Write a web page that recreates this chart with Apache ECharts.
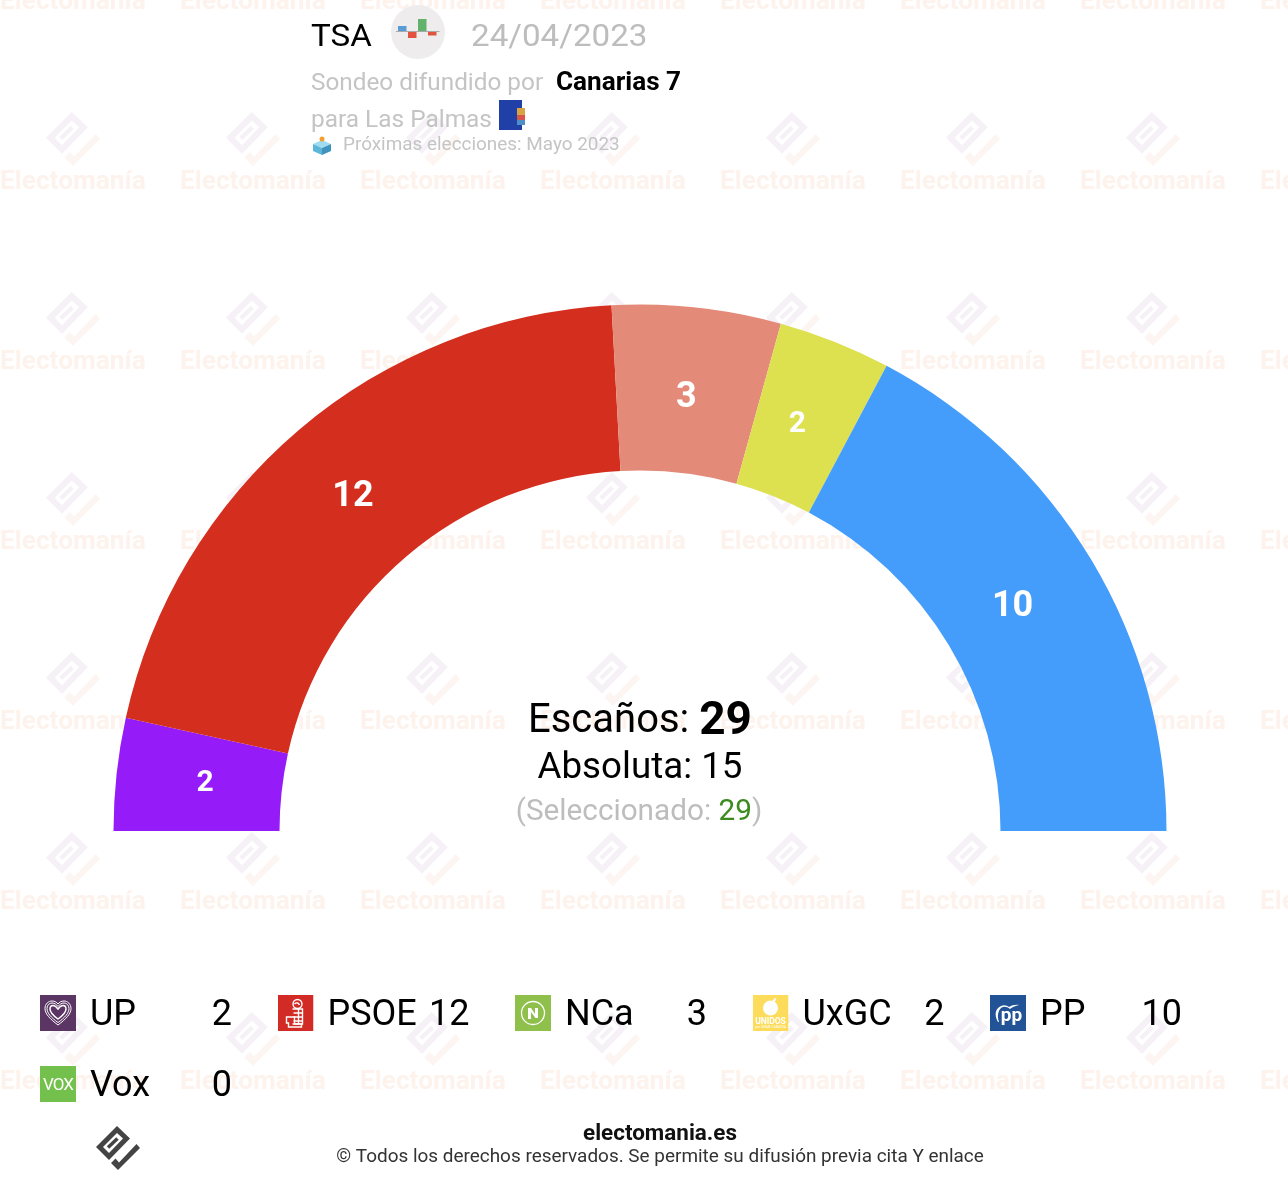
<!DOCTYPE html>
<html><head><meta charset="utf-8">
<style>html,body{margin:0;padding:0;background:#fff}#c{width:1288px;height:1186px}</style>
<script src="https://cdn.jsdelivr.net/npm/echarts@6/dist/echarts.min.js"></script>
</head><body><div id="c"></div>
<script>
const parties = ['UP','PSOE','NCa','UxGC','PP','Vox'];
const seats = [2,12,3,2,10,0];
const colors = ['#951bf9','#d42e1f','#e38a78','#dde04f','#449dfb','#74c04c'];
const labelNudges = [[9,1],[2,6],[-2,11],[-8,8],[-10,6],[0,0]];
const pollster = 'TSA';
const pollDate = '24/04/2023';
const totalSeats = 29, majority = 15, selected = 29;

const svg = {
 UP:'<rect width="36" height="36" fill="#5b3564"/><g fill="none" stroke="#fff" stroke-width="1"><path d="M18 30C10 24 5 19 5 13.500C5 9 8.500 6 12 6C14.500 6 16.500 7 18 9C19.500 7 21.500 6 24 6C27.500 6 31 9 31 13.500C31 19 26 24 18 30Z"/><path d="M18 27.500C11 22.500 7 18 7 13.500C7 10 9.500 8 12 8C14.500 8 16.500 9.500 18 11.500C19.500 9.500 21.500 8 24 8C26.500 8 29 10 29 13.500C29 18 25 22.500 18 27.500Z"/><path stroke-width="1.500" d="M18 24C13 20.500 10 17 10 14C10 11.500 11.500 10.500 13 10.500C15 10.500 16.500 12 18 14C19.500 12 21 10.500 23 10.500C24.500 10.500 26 11.500 26 14C26 17 23 20.500 18 24Z"/></g>',
 PSOE:'<rect width="36" height="36" fill="#d22b25"/><g fill="none" stroke="#fff" stroke-width="1.400"><circle cx="20" cy="9" r="4.500"/><path d="M17 9c2-2 4-1 5 1"/><path d="M15 14h10v15H15M16 18h9M16 22h9M16 26h9M21 14v15"/><path d="M9 22h8v7h7v3H11v-4H9Z"/></g>',
 NCa:'<rect width="36" height="36" fill="#8fc04c"/><circle cx="18" cy="18" r="11.500" fill="none" stroke="#fff" stroke-width="1.300"/><path fill="#fff" d="M13 13h3l4 6v-6h3v10h-2.500L16 17v7h-3Z"/>',
 UxGC:'<rect width="36" height="36" fill="#fcdc5a"/><circle cx="18" cy="13" r="7.500" fill="#fff"/><path d="M20 6l2-3 2 1-2 3Z" fill="#fff"/><text x="18" y="28.500" text-anchor="middle" font-family="Roboto" font-weight="700" font-size="8.500" fill="#fff">UNIDOS</text><text x="18" y="33" text-anchor="middle" font-family="Roboto" font-size="3.500" fill="#fff">por GRAN CANARIA</text>',
 PP:'<rect width="36" height="36" fill="#225396"/><path d="M8 27C4 20 5 14 11 11c3-1.500 6-.5 8 1 3-1.500 6-2.500 10-2-4 1-7 2-9 4-3-2.500-6-3-9-1-3 3-4 8-2 14Z" fill="#fff"/><text x="21.500" y="26" text-anchor="middle" font-family="Roboto" font-weight="700" font-size="19" fill="#fff">pp</text>',
 Vox:'<rect width="36" height="36" fill="#74c04c"/><text x="18" y="23.500" text-anchor="middle" font-family="Roboto" font-size="17" letter-spacing="-1" fill="#fff">VOX</text>'
};
const icon = n => 'image://data:image/svg+xml;charset=utf-8,' + encodeURIComponent('<svg xmlns="http://www.w3.org/2000/svg" width="36" height="36" viewBox="0 0 36 36">' + svg[n] + '</svg>');

// Electomanía mark, in a 44×44 box
const markBody = [[21,0],[34,12.500],[13,34],[0,21]];
const markHole = [[21,7],[27,12.500],[13,27],[7,21]];
const markCheck = [[40.500,18],[44,22],[22,44],[15,37],[19.500,32.500],[23,36.500]];
function mark(x, y, s, body, check, z) {
  const pts = a => a.map(p => [x + p[0]*s, y + p[1]*s]);
  return [
    {type:'polygon', z, silent:true, shape:{points:pts(markBody)}, style:{fill:body}},
    {type:'polygon', z, silent:true, shape:{points:pts(markHole)}, style:{fill:'#fff'}},
    {type:'line', z, silent:true, shape:{x1:x+12*s,y1:y+21.500*s,x2:x+21.500*s,y2:y+12.500*s}, style:{stroke:body,lineWidth:3.500*s}},
    {type:'polygon', z, silent:true, shape:{points:pts(markCheck)}, style:{fill:check}}
  ];
}
const font = 'Roboto';
const txt = (x,y,text,size,fill,weight,align,sx) => ({type:'text', z:10, silent:true, x, y, scaleX:sx||1,
  style:{text, fontFamily:font, fontSize:size, fontWeight:weight||400, fill, align:align||'left', verticalAlign:'middle'}});
const rect = (x,y,w,h,fill) => ({type:'rect', z:10, silent:true, shape:{x,y,width:w,height:h}, style:{fill}});

const graphics = [];
for (let r = 0; r < 7; r++) for (let c = 0; c < 8; c++) {
  const X = c*180, Y = r*180;
  graphics.push({type:'text', z:0, silent:true, x:X, y:Y+2, scaleX:1.01, style:{text:'Electomanía', fontFamily:font, fontSize:26, fontWeight:700, fill:'#fdf2ec', align:'left', verticalAlign:'middle'}});
  graphics.push(...mark(X+46, Y-68, 54/44, '#f5f1f6', '#fcf5f2', 0));
}
graphics.push(
  txt(311,38,pollster,32,'#000',400,'left',1.035),
  txt(471,38,pollDate,32,'#bdbdbd',400,'left',1.036),
  {type:'circle', z:10, silent:true, shape:{cx:418,cy:32,r:27}, style:{fill:'#eeeced'}},
  rect(398,26,8.500,6,'#5b9bd5'), rect(408,32,8.500,6,'#e2533f'),
  rect(418,19,8.500,13,'#62b26d'), rect(428,32,8.500,3.500,'#e2533f'),
  rect(396,31,43.500,1,'#a9a9a9'),
  txt(311,84,'Sondeo difundido por',24,'#c4c4c4',400,'left',1.013),
  txt(556,84,'Canarias 7',25,'#000',700,'left',1.045),
  txt(311,121,'para Las Palmas',24,'#c4c4c4',400,'left',1.017),
  rect(499,100,23,30,'#2040a8'),
  rect(517,108,8,8,'#d9a441'), rect(517,115,8,5,'#d8554a'), rect(517,120,8,5,'#4f8fc9'),
  {type:'polygon', z:10, silent:true, shape:{points:[[322,140],[331,144],[322,148],[313,144]]}, style:{fill:'#9fdcf0'}},
  {type:'polygon', z:10, silent:true, shape:{points:[[313,144],[322,148],[322,155],[313,151]]}, style:{fill:'#5db5d8'}},
  {type:'polygon', z:10, silent:true, shape:{points:[[331,144],[322,148],[322,155],[331,151]]}, style:{fill:'#3f94bd'}},
  {type:'circle', z:10, silent:true, shape:{cx:322,cy:139,r:2.500}, style:{fill:'#f0a030'}},
  txt(343,145,'Próximas elecciones: Mayo 2023',18,'#c4c4c4',400,'left',1.05),
  {type:'text', z:10, silent:true, x:640, y:722, style:{
    text:'{a|Escaños: }{b|'+totalSeats+'}', align:'center', verticalAlign:'middle', fontFamily:font,
    rich:{a:{fontFamily:font,fontSize:40,fill:'#000'},b:{fontFamily:font,fontSize:46,fontWeight:700,fill:'#000'}}}},
  txt(640,769,'Absoluta: '+majority,36,'#000',400,'center',1.02),
  {type:'text', z:10, silent:true, x:639, y:813, scaleX:1.025, style:{
    text:'{a|(Seleccionado: }{b|'+selected+'}{a|)}', align:'center', verticalAlign:'middle', fontFamily:font,
    rich:{a:{fontFamily:font,fontSize:29,fill:'#bdbdbd'},b:{fontFamily:font,fontSize:29,fill:'#3d8a1f'}}}},
  txt(660,1134,'electomania.es',22,'#111',700,'center',1.02),
  txt(660,1157,'© Todos los derechos reservados. Se permite su difusión previa cita Y enlace',18,'#333',400,'center',1.052),
  ...mark(96,1126,1,'#444','#444',10)
);

const chart = echarts.init(document.getElementById('c'), null, {renderer:'canvas'});
chart.setOption({
  animation:false,
  backgroundColor:'#fff',
  graphic:{elements:graphics},
  legend:{
    left:40, top:992, width:1230, padding:0, itemWidth:36, itemHeight:36, itemGap:29,
    selectedMode:false, orient:'horizontal', align:'left',
    data:parties.map(n => ({name:n, icon:icon(n)})),
    formatter:n => '{n|'+n+'}{v|'+seats[parties.indexOf(n)]+'}',
    textStyle:{rich:{
      n:{fontFamily:font,fontSize:36,color:'#000',width:99,padding:[6,0,0,9],lineHeight:36},
      v:{fontFamily:font,fontSize:36,color:'#000',width:43,align:'right',padding:[6,16.500,0,0],lineHeight:36}
    }}
  },
  series:[{
    type:'pie', center:[640,831], radius:[360.500,526.500], startAngle:180, endAngle:0, clockwise:true,
    silent:true, avoidLabelOverlap:false,
    data:parties.map((n,i) => ({name:n, value:seats[i], itemStyle:{color:colors[i]},
      label:{fontSize:seats[i] >= 3 ? 36 : 30}})),
    label:{show:true, position:'inside', fontFamily:font, fontWeight:700, color:'#fff',
      formatter:p => p.value > 0 ? String(p.value) : ''},
    labelLayout:p => ({dx:labelNudges[p.dataIndex][0], dy:labelNudges[p.dataIndex][1]}),
    labelLine:{show:false}
  }]
});
</script></body></html>
